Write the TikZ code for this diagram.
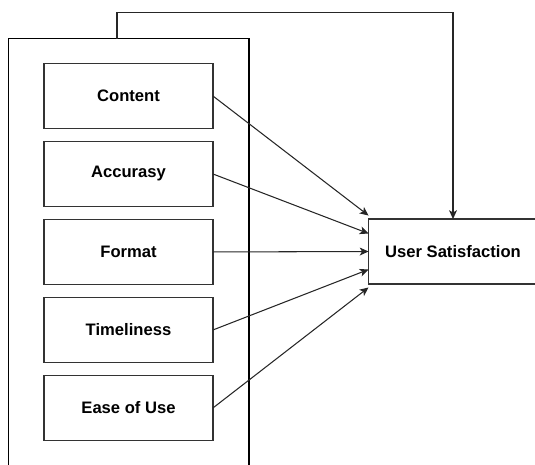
\documentclass[tikz,border=0pt]{standalone}
\usepackage{fontspec}
\setmainfont{Liberation Sans}
\usetikzlibrary{arrows.meta,positioning}

\tikzset{
  factor/.style={draw=black!80, line width=0.8pt, fill=white, outer sep=0pt,
    minimum width=3.38cm, minimum height=1.3cm},
  group/.style={draw=black, line width=0.6pt, outer sep=0pt,
    minimum width=4.81cm, minimum height=8.73cm},
  link/.style={draw=black!85, line width=0.6pt,
    -{Stealth[length=5pt,width=4.5pt,inset=1.3pt]}}
}

\begin{document}
\begin{tikzpicture}[x=0.02cm, y=-0.02cm, font=\fontsize{9.45}{11}\selectfont\bfseries]
		\useasboundingbox (0,0) rectangle (535,464);
		% frame round the factors
		\node[group] (frame) at (128.75,256.75) {};
		% factors
		\node[factor] (content) at (128.5,96) {Content};
		\node[factor, below=0.26cm of content] (accuracy) {Accurasy};
		\node[factor, below=0.26cm of accuracy] (format) {Format};
		\node[factor, below=0.26cm of format] (timeliness) {Timeliness};
		\node[factor, below=0.26cm of timeliness] (ease) {Ease of Use};
		% outcome
		\node[factor] (satisfaction) at (453,251.5) {User Satisfaction};
		% links
		\draw[link] (content.east) -- ([yshift=0.72cm]satisfaction.west);
		\draw[link] (accuracy.east) -- ([yshift=0.36cm]satisfaction.west);
		\draw[link] (format.east) -- (satisfaction.west);
		\draw[link] (timeliness.east) -- ([yshift=-0.36cm]satisfaction.west);
		\draw[link] (ease.east) -- ([yshift=-0.72cm]satisfaction.west);
		% frame to outcome
		\coordinate (frametop) at ([xshift=-0.235cm]frame.north);
		\draw[link] (frametop) -- ++(0,-26.5) -| (satisfaction.north);
\end{tikzpicture}
\end{document}
